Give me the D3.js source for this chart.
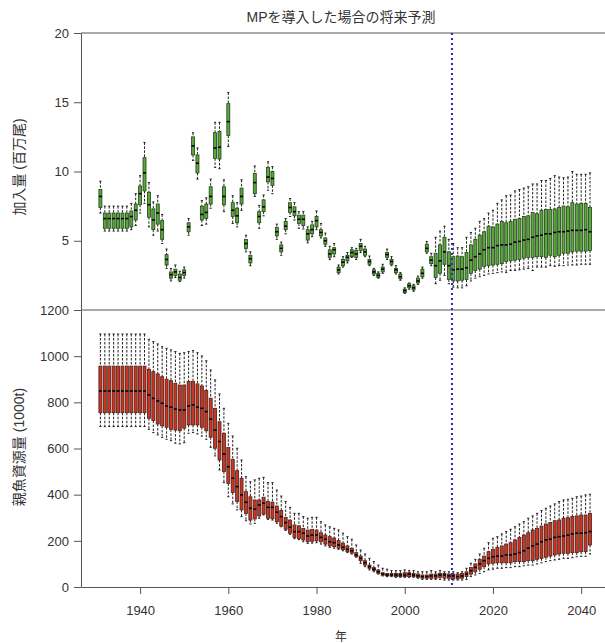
<!DOCTYPE html>
<html>
<head>
<meta charset="utf-8">
<script src="https://cdnjs.cloudflare.com/ajax/libs/d3/7.8.5/d3.min.js"></script>
<style>
  body { margin: 0; background: #fff; }
  text { font-family: "Liberation Sans", "Noto Sans CJK JP", sans-serif; fill: #333; }
</style>
</head>
<body>
<div id="chart"></div>
<script>
'use strict';

// years 1931 .. 2042 (one box per year)
var years = d3.range(1931, 2043);
var mpStartYear = 2010.7;

// recruitment (million fish): whisker low, Q1, median, Q3, whisker high
var recLo = [
  7.0, 5.7, 5.7, 5.7, 5.7, 5.7, 5.7, 5.8, 6.1,
  7.0, 7.7, 6.0, 5.4, 5.7, 4.8, 3.0, 2.1, 2.35, 2.05,
  2.3, 5.4, 10.8, 9.45, 6.1, 6.2, 7.35, 10.3, 10.2, 7.1,
  11.8, 6.25, 6.0, 7.2, 4.2, 3.2, 8.2, 5.9, 6.8, 8.65,
  8.4, 5.1, 3.95, 5.5, 6.75, 6.5, 5.9, 5.85, 4.85, 5.3,
  5.8, 5.2, 4.6, 3.65, 3.85, 2.6, 3.1, 3.4, 3.8, 3.65,
  4.15, 3.85, 3.2, 2.5, 2.3, 2.65, 3.65, 3.2, 2.6, 2.15,
  1.2, 1.5, 1.35, 1.85, 2.3, 4.1, 3.2, 1.9, 2.15, 2.5,
  1.9, 1.65, 1.6, 1.6, 1.75, 2.1, 2.3, 2.4, 2.5, 2.6,
  2.65, 2.7, 2.75, 2.7, 2.85, 2.85, 2.9, 2.95, 3.0, 2.85,
  3.1, 3.1, 3.1, 3.2, 3.15, 3.2, 3.2, 3.25, 3.25, 3.25,
  3.3, 3.3, 3.3
];
var recQ1 = [
  7.4, 5.9, 5.9, 5.9, 5.9, 5.9, 5.9, 6.0, 6.5,
  7.6, 8.6, 6.7, 5.8, 6.2, 5.1, 3.25, 2.3, 2.5, 2.15,
  2.5, 5.65, 11.2, 9.9, 6.5, 6.6, 7.65, 10.95, 10.9, 7.6,
  12.6, 6.75, 6.3, 7.65, 4.45, 3.4, 8.4, 6.3, 7.1, 9.25,
  9.0, 5.35, 4.2, 5.8, 7.05, 6.8, 6.25, 6.1, 5.05, 5.5,
  6.0, 5.35, 4.75, 3.8, 4.05, 2.7, 3.2, 3.55, 3.85, 3.8,
  4.3, 3.95, 3.3, 2.6, 2.35, 2.75, 3.8, 3.3, 2.7, 2.25,
  1.25, 1.6, 1.45, 1.95, 2.4, 4.2, 3.35, 2.35, 2.65, 3.3,
  2.2, 2.1, 2.1, 2.15, 2.2, 2.65, 2.85, 2.95, 3.15, 3.2,
  3.25, 3.3, 3.35, 3.5, 3.55, 3.6, 3.65, 3.75, 3.8, 3.8,
  3.85, 3.85, 3.8, 3.95, 3.85, 3.95, 4.1, 4.1, 4.2, 4.25,
  4.25, 4.25, 4.3
];
var recMed = [
  8.2, 6.6, 6.6, 6.6, 6.6, 6.6, 6.6, 6.75, 7.2,
  8.4, 9.9, 7.6, 6.5, 7.0, 5.8, 3.65, 2.55, 2.75, 2.35,
  2.7, 6.0, 11.85, 10.6, 6.9, 7.05, 8.2, 11.7, 11.75, 8.2,
  13.6, 7.2, 6.8, 8.2, 4.8, 3.7, 9.2, 6.75, 7.45, 9.6,
  9.5, 5.65, 4.45, 6.05, 7.4, 7.1, 6.55, 6.55, 5.5, 5.8,
  6.45, 5.6, 5.0, 4.05, 4.35, 2.9, 3.45, 3.8, 4.15, 4.05,
  4.6, 4.2, 3.5, 2.75, 2.5, 2.95, 4.0, 3.5, 2.9, 2.4,
  1.4, 1.75, 1.6, 2.1, 2.65, 4.45, 3.6, 3.2, 3.55, 4.2,
  3.2, 2.9, 2.95, 2.95, 3.05, 3.6, 3.85, 4.05, 4.35, 4.5,
  4.5, 4.65, 4.7, 4.7, 4.75, 4.9, 4.95, 5.05, 5.1, 5.25,
  5.35, 5.4, 5.5, 5.5, 5.6, 5.65, 5.65, 5.7, 5.75, 5.75,
  5.75, 5.8, 5.65
];
var recQ3 = [
  8.7, 7.0, 7.0, 7.0, 7.0, 7.0, 7.0, 7.15, 7.65,
  8.95, 11.0, 8.5, 7.3, 7.65, 6.45, 4.0, 2.75, 2.95, 2.6,
  2.9, 6.3, 12.5, 11.2, 7.5, 7.65, 8.9, 12.8, 12.9, 8.9,
  14.9, 7.75, 7.35, 8.8, 5.1, 3.95, 9.85, 7.1, 7.95, 10.3,
  10.0, 5.95, 4.7, 6.4, 7.75, 7.45, 6.85, 6.85, 5.8, 6.15,
  6.75, 5.8, 5.2, 4.35, 4.5, 3.1, 3.65, 3.95, 4.35, 4.3,
  4.8, 4.4, 3.65, 2.9, 2.65, 3.1, 4.15, 3.65, 3.0, 2.6,
  1.5, 1.9, 1.75, 2.3, 2.95, 4.75, 3.85, 4.1, 4.7, 5.25,
  4.2, 3.85, 3.9, 3.85, 4.15, 4.7, 5.1, 5.4, 5.65, 6.05,
  6.0, 6.2, 6.4, 6.3, 6.4, 6.55, 6.6, 6.75, 6.8, 7.05,
  6.95, 7.2, 7.25, 7.25, 7.3, 7.4, 7.5, 7.45, 7.75, 7.65,
  7.7, 7.7, 7.4
];
var recHi = [
  9.3, 7.5, 7.5, 7.5, 7.5, 7.5, 7.5, 7.7, 8.4,
  9.7, 12.1, 9.2, 7.8, 8.25, 6.9, 4.4, 3.0, 3.25, 2.8,
  3.1, 6.6, 12.8, 11.7, 7.9, 8.1, 9.45, 13.55, 13.55, 9.4,
  15.7, 8.25, 7.75, 9.4, 5.4, 4.2, 10.4, 7.55, 8.3, 10.7,
  10.35, 6.2, 4.9, 6.6, 8.05, 7.75, 7.1, 7.1, 6.0, 6.4,
  7.15, 6.25, 5.55, 4.6, 4.8, 3.25, 3.85, 4.15, 4.5, 4.45,
  5.1, 4.6, 3.9, 3.0, 2.75, 3.3, 4.4, 3.85, 3.2, 2.7,
  1.6, 1.95, 1.85, 2.45, 3.1, 4.95, 4.1, 5.25, 5.7, 6.05,
  5.1, 4.8, 4.5, 4.5, 5.25, 5.6, 5.9, 6.4, 6.6, 7.0,
  7.2, 7.7, 7.95, 8.25, 8.3, 8.6, 8.7, 8.8, 8.9, 9.1,
  9.1, 9.35, 9.35, 9.5, 9.7, 9.6, 9.55, 9.6, 10.0, 9.8,
  9.8, 9.8, 9.9
];

// spawning stock biomass (1000t): whisker low, Q1, median, Q3, whisker high
var ssbLo = [
  695, 695, 695, 695, 695, 695, 695, 695, 695,
  695, 695, 683, 669, 659, 648, 640, 634, 623, 620,
  625, 666, 669, 663, 654, 640, 605, 568, 507, 452,
  391, 360, 334, 305, 287, 273, 276, 298, 312, 293,
  290, 276, 261, 245, 228, 209, 205, 196, 189, 190,
  192, 186, 178, 172, 168, 163, 157, 149, 143, 129,
  103, 88, 74, 66, 56, 48, 45, 45, 42, 42,
  42, 42, 42, 38, 33, 33, 33, 33, 33, 30,
  30, 30, 30, 30, 33, 45, 52, 59, 66, 74,
  77, 81, 81, 84, 84, 88, 88, 92, 95, 95,
  100, 105, 110, 114, 117, 120, 124, 124, 127, 131,
  133, 133, 143
];
var ssbQ1 = [
  755, 755, 755, 755, 755, 755, 755, 755, 755,
  755, 755, 731, 721, 706, 698, 692, 683, 680, 677,
  688, 702, 702, 702, 692, 677, 649, 601, 550, 500,
  449, 409, 370, 334, 319, 290, 295, 308, 316, 298,
  296, 283, 264, 250, 233, 215, 210, 204, 196, 198,
  200, 196, 186, 178, 175, 168, 162, 153, 147, 132,
  114, 95, 81, 72, 59, 51, 48, 48, 45, 45,
  45, 45, 45, 42, 38, 38, 38, 38, 42, 38,
  38, 35, 35, 38, 45, 56, 66, 77, 88, 100,
  103, 105, 105, 105, 105, 110, 110, 110, 114, 114,
  120, 124, 129, 134, 139, 143, 146, 146, 149, 149,
  153, 153, 182
];
var ssbMed = [
  849, 849, 849, 849, 849, 849, 849, 849, 849,
  849, 849, 832, 817, 806, 796, 784, 779, 771, 767,
  767, 784, 789, 779, 774, 760, 727, 680, 630, 576,
  521, 471, 435, 399, 367, 341, 337, 355, 363, 345,
  345, 324, 305, 279, 259, 240, 240, 233, 221, 225,
  225, 215, 207, 196, 192, 182, 172, 163, 157, 139,
  124, 105, 88, 77, 66, 56, 52, 52, 52, 52,
  52, 56, 52, 48, 45, 45, 48, 48, 52, 52,
  48, 48, 45, 48, 56, 71, 85, 100, 114, 124,
  131, 134, 134, 139, 139, 143, 149, 157, 168, 178,
  186, 196, 204, 207, 215, 218, 221, 225, 230, 233,
  233, 235, 240
];
var ssbQ3 = [
  957, 957, 957, 957, 957, 957, 957, 957, 957,
  957, 957, 943, 933, 923, 911, 900, 894, 883, 875,
  875, 890, 890, 880, 871, 851, 818, 774, 716, 666,
  605, 553, 504, 471, 413, 391, 377, 377, 389, 370,
  368, 351, 331, 302, 290, 269, 265, 254, 247, 250,
  247, 235, 225, 218, 212, 201, 190, 178, 168, 149,
  134, 114, 95, 84, 74, 62, 59, 59, 59, 59,
  62, 62, 59, 56, 52, 52, 56, 56, 59, 59,
  56, 56, 56, 59, 66, 85, 100, 120, 134, 153,
  163, 172, 178, 186, 192, 204, 215, 225, 235, 247,
  254, 264, 273, 279, 287, 290, 298, 300, 305, 308,
  312, 312, 319
];
var ssbHi = [
  1096, 1096, 1096, 1096, 1096, 1096, 1096, 1096, 1096,
  1096, 1096, 1073, 1063, 1053, 1041, 1034, 1027, 1020, 1012,
  1015, 1020, 1024, 1015, 1001, 980, 940, 897, 836, 774,
  709, 654, 601, 550, 478, 456, 464, 471, 475, 452,
  452, 420, 394, 370, 345, 319, 319, 305, 298, 302,
  302, 283, 269, 261, 254, 247, 233, 218, 207, 182,
  160, 143, 124, 110, 95, 81, 77, 71, 71, 71,
  74, 71, 71, 66, 66, 66, 71, 66, 71, 66,
  66, 66, 62, 66, 81, 103, 120, 143, 168, 192,
  211, 218, 230, 240, 250, 261, 273, 283, 298, 308,
  319, 331, 341, 351, 360, 370, 377, 380, 384, 391,
  394, 399, 402
];

var recTicks = [5, 10, 15, 20];
var ssbTicks = [0, 200, 400, 600, 800, 1000, 1200];
var yearTicks = [1940, 1960, 1980, 2000, 2020, 2040];

var width = 605, height = 643;
var left = 81, right = 605, top1 = 33, mid = 310, bottom = 587;

var svg = d3.select('#chart')
            .append('svg')
            .attr('width', width)
            .attr('height', height);

var x = d3.scaleLinear().domain([1926.6, 2045.4]).range([left, right]);
var yRec = d3.scaleLinear().domain([0, 20]).range([mid, top1]);
var ySsb = d3.scaleLinear().domain([0, 1200]).range([bottom, mid]);

var boxW = 3.0;

// frame lines
svg.append('line')
   .attr('x1', left).attr('x2', right)
   .attr('y1', top1).attr('y2', top1)
   .attr('stroke', '#555').attr('stroke-width', 1);
svg.append('line')
   .attr('x1', left).attr('x2', right)
   .attr('y1', mid).attr('y2', mid)
   .attr('stroke', '#555').attr('stroke-width', 1);

function drawBoxes(yScale, lo, q1, med, q3, hi, fill, stroke) {
  var rows = years.map(function (yr, i) {
    return { year: yr, lo: lo[i], q1: q1[i], med: med[i], q3: q3[i], hi: hi[i] };
  });
  var g = svg.append('g');
  var box = g.selectAll('g.box')
             .data(rows)
             .enter()
             .append('g')
             .attr('class', 'box');

  // dashed whiskers
  box.append('line')
     .attr('x1', function (d) { return x(d.year); })
     .attr('x2', function (d) { return x(d.year); })
     .attr('y1', function (d) { return yScale(d.hi); })
     .attr('y2', function (d) { return yScale(d.q3); })
     .attr('stroke', '#222').attr('stroke-width', 1)
     .attr('stroke-dasharray', '2.5,1.5');
  box.append('line')
     .attr('x1', function (d) { return x(d.year); })
     .attr('x2', function (d) { return x(d.year); })
     .attr('y1', function (d) { return yScale(d.q1); })
     .attr('y2', function (d) { return yScale(d.lo); })
     .attr('stroke', '#222').attr('stroke-width', 1)
     .attr('stroke-dasharray', '2.5,1.5');
  // staples
  ['hi', 'lo'].forEach(function (k) {
    box.append('line')
       .attr('x1', function (d) { return x(d.year) - 1.1; })
       .attr('x2', function (d) { return x(d.year) + 1.1; })
       .attr('y1', function (d) { return yScale(d[k]); })
       .attr('y2', function (d) { return yScale(d[k]); })
       .attr('stroke', '#222').attr('stroke-width', 1);
  });

  box.append('rect')
     .attr('x', function (d) { return x(d.year) - boxW / 2; })
     .attr('width', boxW)
     .attr('y', function (d) { return yScale(d.q3); })
     .attr('height', function (d) { return Math.max(1, yScale(d.q1) - yScale(d.q3)); })
     .attr('fill', fill)
     .attr('stroke', stroke)
     .attr('stroke-width', 0.8);

  box.append('line')
     .attr('x1', function (d) { return x(d.year) - boxW / 2; })
     .attr('x2', function (d) { return x(d.year) + boxW / 2; })
     .attr('y1', function (d) { return yScale(d.med); })
     .attr('y2', function (d) { return yScale(d.med); })
     .attr('stroke', '#000').attr('stroke-width', 1.6);
}

drawBoxes(yRec, recLo, recQ1, recMed, recQ3, recHi, '#59a83a', '#22401a');
drawBoxes(ySsb, ssbLo, ssbQ1, ssbMed, ssbQ3, ssbHi, '#cf3420', '#44201a');

// axes
var axRec = svg.append('g')
               .attr('transform', 'translate(' + left + ',0)')
               .call(d3.axisLeft(yRec).tickValues(recTicks).tickFormat(d3.format('d')).tickSize(7).tickSizeOuter(0).tickPadding(5));
var axSsb = svg.append('g')
               .attr('transform', 'translate(' + left + ',0)')
               .call(d3.axisLeft(ySsb).tickValues(ssbTicks).tickFormat(d3.format('d')).tickSize(7).tickSizeOuter(0).tickPadding(5));
var axX = svg.append('g')
             .attr('transform', 'translate(0,' + bottom + ')')
             .call(d3.axisBottom(x).tickValues(yearTicks).tickFormat(d3.format('d')).tickSize(7).tickSizeOuter(0).tickPadding(12));

[axRec, axSsb, axX].forEach(function (ax) {
  ax.selectAll('path, line').attr('stroke', '#555');
  ax.selectAll('text')
    .style('font-family', '"Liberation Sans", sans-serif')
    .style('font-size', '13px')
    .attr('fill', '#333');
});

// MP start line
svg.append('line')
   .attr('x1', x(mpStartYear)).attr('x2', x(mpStartYear))
   .attr('y1', top1).attr('y2', bottom)
   .attr('stroke', '#2a2ab8')
   .attr('stroke-width', 2)
   .attr('stroke-dasharray', '2,3');

// titles
svg.append('text')
   .attr('x', 341).attr('y', 22)
   .attr('text-anchor', 'middle')
   .style('font-size', '14px')
   .text('MPを導入した場合の将来予測');

svg.append('text')
   .attr('transform', 'translate(24,' + 167 + ') rotate(-90)')
   .attr('text-anchor', 'middle')
   .style('font-size', '14px')
   .text('加入量 (百万尾)');

svg.append('text')
   .attr('transform', 'translate(24,' + 447 + ') rotate(-90)')
   .attr('text-anchor', 'middle')
   .style('font-size', '14px')
   .text('親魚資源量 (1000t)');

svg.append('text')
   .attr('x', 341).attr('y', 641)
   .attr('text-anchor', 'middle')
   .style('font-size', '12px')
   .text('年');
</script>
</body>
</html>
